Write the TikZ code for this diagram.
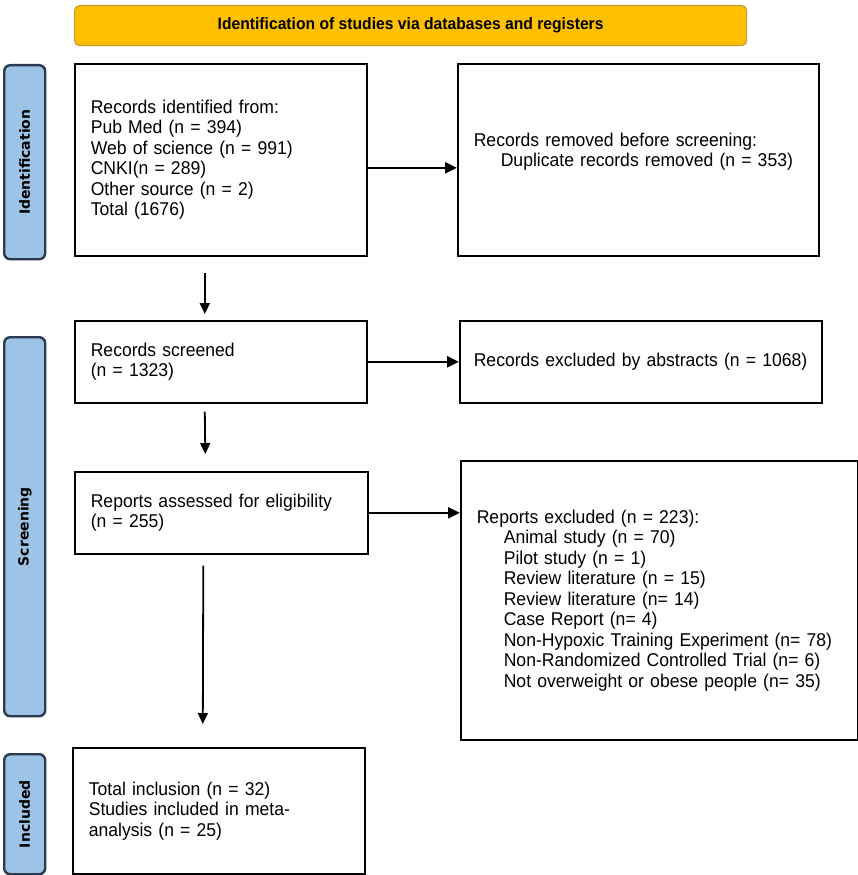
\documentclass[tikz,border=0pt]{standalone}
\usepackage{fontspec}
\setmainfont{Liberation Sans}[FakeStretch=0.95]
\newfontfamily\barfont{DejaVu Sans}
\usepackage{xcolor}
\usetikzlibrary{arrows,arrows.meta}
\definecolor{bannerfill}{HTML}{FFC000}
\definecolor{bannerline}{HTML}{C99A2E}
\definecolor{barfill}{HTML}{9DC3E6}
\definecolor{barline}{HTML}{2B3A4F}

\begin{document}
\begin{tikzpicture}[x=1pt,y=-1pt,
  box/.style={draw,line width=1.6,anchor=north west,inner xsep=16,inner ysep=0,
    align=left,font=\fontsize{18.5}{20.5}\selectfont},
  sidebar/.style={draw=barline,fill=barfill,line width=2.4,rounded corners=6,
    anchor=north west,inner sep=0,minimum width=41},
  sidetext/.style={rotate=90,font=\barfont\bfseries\fontsize{14}{16}\selectfont},
  harrow/.style={-{Triangle[length=12,width=11]},line width = 2.4},
  varrow/.style={-{Triangle[length=11,width=10]},line width = 1.8}]
\useasboundingbox (0,0) rectangle (858,875);

\node[draw=bannerline,fill=bannerfill,line width=1.2,rounded corners=5,anchor=north west,
  minimum width=672,minimum height=40,font=\bfseries\fontsize{16.5}{18}\selectfont]
  (banner) at (74,5) {Identification of studies via databases and registers};

% phase bars
\node[sidebar,minimum height=194] (idbar) at (3,64) {};
\node[sidetext] at (idbar) {Identification};
\node[sidebar,minimum height=379] (scbar) at (3,336) {};
\node[sidetext] at (scbar) {Screening};
\node[sidebar,minimum height=120] (inbar) at (3,753) {};
\node[sidetext] at (inbar) {Included};

% boxes
\node[box,minimum width=292,minimum height=192,text width=260] (ident) at (74,63)
  {Records identified from:\\Pub Med (n = 394)\\Web of science (n = 991)\\CNKI(n = 289)\\Other source (n = 2)\\Total (1676)};
\node[box,minimum width=361,minimum height=192,text width=329] (removed) at (457,63)
  {Records removed before screening:\\\hspace*{27pt}Duplicate records removed (n = 353)\\\mbox{}};
\node[box,minimum width=292,minimum height=82,text width=260] (screened) at (74,320)
  {Records screened\\(n = 1323)};
\node[box,inner xsep=14,minimum width=362,minimum height=82,text width=334] (abstr) at (459,320)
  {Records excluded by abstracts (n = 1068)};
\node[box,minimum width=293,minimum height=82,text width=261] (assessed) at (74,471)
  {Reports assessed for eligibility\\(n = 255)};
\node[box,minimum width=397,minimum height=279,text width=365] (excluded) at (460,460)
  {Reports excluded (n = 223):\\
  \hspace*{27pt}Animal study (n = 70)\\
  \hspace*{27pt}Pilot study (n = 1)\\
  \hspace*{27pt}Review literature (n = 15)\\
  \hspace*{27pt}Review literature (n= 14)\\
  \hspace*{27pt}Case Report (n= 4)\\
  \hspace*{27pt}Non-Hypoxic Training Experiment (n= 78)\\
  \hspace*{27pt}Non-Randomized Controlled Trial (n= 6)\\
  \hspace*{27pt}Not overweight or obese people (n= 35)};
\node[box,minimum width=292,minimum height=126,text width=260] (incl) at (72,747)
  {Total inclusion (n = 32)\\Studies included in meta-\\analysis (n = 25)};

% arrows
\draw[harrow] ([yshift=-8]ident.east) -- ([yshift=-8]ident.east -| removed.west);
\draw[harrow] (screened.east) -- (abstr.west);
\draw[harrow] (assessed.east) -- (assessed.east -| excluded.west);
\draw[varrow] ([xshift=-16,yshift=-16]ident.south) -- ([xshift=-16,yshift=6]screened.north);
\draw[varrow] ([xshift=-16,yshift=-8]screened.south) -- ([xshift=-16,yshift=17]assessed.north);
\draw[varrow] ([xshift=-18,yshift=-11]assessed.south) -- ([xshift=-16,yshift=23]incl.north);
\end{tikzpicture}
\end{document}
